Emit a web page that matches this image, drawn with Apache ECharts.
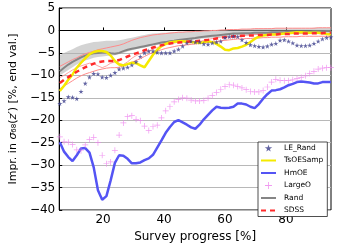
<!DOCTYPE html>
<html><head><meta charset="utf-8">
<script src="https://cdn.jsdelivr.net/npm/echarts@6/dist/echarts.min.js"></script>
<style>html,body{margin:0;padding:0;background:#fff}#c{width:343px;height:248px}</style>
</head><body><div id="c"></div>
<script>
const xs = [5.80,7.19,8.58,9.97,11.36,12.75,14.14,15.53,16.92,18.31,19.70,21.09,22.48,23.87,25.26,26.65,28.04,29.43,30.82,32.21,33.60,34.99,36.38,37.77,39.16,40.55,41.94,43.33,44.72,46.11,47.50,48.89,50.28,51.67,53.06,54.45,55.84,57.23,58.62,60.01,61.40,62.79,64.18,65.57,66.96,68.35,69.74,71.13,72.52,73.91,75.30,76.69,78.08,79.47,80.86,82.25,83.64,85.03,86.42,87.81,89.20,90.59,91.98,93.37,94.76];
const leRand = [-16.3,-15.7,-14.8,-14.9,-15.2,-13.6,-11.8,-10.4,-9.6,-9.7,-10.4,-10.5,-10.0,-9.4,-8.6,-8.4,-8.2,-7.7,-7.0,-5.8,-5.0,-4.6,-4.6,-4.9,-5.0,-5.0,-5.0,-4.6,-4.2,-3.5,-2.8,-2.4,-2.6,-2.6,-3.0,-3.1,-2.8,-2.6,-2.4,-1.6,-1.4,-1.3,-1.4,-2.1,-2.7,-3.2,-3.4,-3.6,-3.7,-3.5,-3.1,-2.9,-2.2,-2.1,-2.4,-2.8,-3.3,-3.4,-3.4,-3.3,-2.9,-2.4,-1.9,-1.6,-1.5];
const tsOESamp = [-13.5,-12.3,-11.0,-9.8,-8.3,-7.2,-6.2,-5.3,-4.8,-4.6,-4.6,-4.8,-5.6,-6.8,-7.6,-7.8,-7.5,-7.2,-7.3,-7.8,-8.2,-6.8,-5.4,-4.3,-3.5,-3.0,-2.7,-2.5,-2.4,-2.4,-2.5,-2.6,-2.7,-2.8,-2.6,-2.4,-2.6,-3.0,-3.6,-4.3,-4.4,-4.0,-3.9,-3.6,-3.2,-2.6,-1.9,-1.4,-1.1,-1.0,-0.9,-0.9,-0.8,-0.7,-0.6,-0.5,-0.4,-0.4,-0.5,-0.5,-0.5,-0.5,-0.6,-0.8,-0.9];
const hmOE = [-24.9,-27.0,-28.2,-29.1,-27.8,-26.3,-26.2,-27.2,-30.5,-35.6,-37.7,-36.9,-33.4,-29.5,-27.8,-27.9,-28.6,-29.6,-29.6,-29.4,-28.9,-28.5,-27.7,-26.1,-24.5,-22.8,-21.5,-20.4,-20.0,-20.5,-21.0,-21.6,-21.9,-21.0,-19.8,-18.8,-17.8,-17.0,-17.2,-17.3,-17.2,-17.0,-16.3,-16.3,-16.5,-17.0,-17.3,-16.4,-15.2,-14.2,-13.4,-13.3,-13.1,-12.7,-12.2,-11.9,-11.5,-11.4,-11.5,-11.6,-11.8,-11.8,-11.5,-11.5,-11.5];
const largeO = [-23.7,-24.8,-24.9,-25.4,-26.6,-26.8,-25.5,-24.3,-23.8,-25.0,-27.8,-29.7,-29.3,-26.7,-23.3,-20.6,-19.2,-19.0,-19.8,-20.1,-21.3,-22.3,-21.4,-21.1,-19.5,-17.9,-17.0,-15.9,-15.4,-15.0,-15.1,-15.5,-15.7,-15.7,-15.6,-15.1,-14.5,-13.8,-13.1,-12.5,-12.1,-12.2,-12.5,-12.8,-13.2,-13.6,-13.7,-13.7,-13.4,-12.6,-11.5,-10.9,-11.1,-11.2,-11.2,-11.0,-10.7,-10.5,-10.1,-9.6,-9.1,-8.6,-8.4,-8.3,-8.3];
const rand = [-9.1,-8.3,-7.6,-7.0,-6.5,-6.0,-5.6,-5.3,-5.1,-5.0,-4.9,-4.9,-5.1,-5.2,-5.0,-4.6,-4.3,-4.1,-3.9,-3.7,-3.5,-3.3,-3.1,-2.9,-2.7,-2.6,-2.4,-2.3,-2.1,-2.0,-1.9,-1.8,-1.7,-1.5,-1.4,-1.3,-1.2,-1.1,-1.0,-0.9,-0.8,-0.7,-0.7,-0.6,-0.6,-0.6,-0.5,-0.5,-0.5,-0.5,-0.4,-0.4,-0.4,-0.4,-0.3,-0.3,-0.3,-0.3,-0.3,-0.3,-0.2,-0.2,-0.2,-0.1,-0.1];
const randHigh = [-5.5,-5.0,-4.6,-4.2,-3.7,-3.3,-3.0,-2.8,-2.6,-2.5,-2.4,-2.3,-2.3,-2.3,-2.2,-2.0,-1.8,-1.6,-1.4,-1.2,-1.0,-0.8,-0.7,-0.6,-0.5,-0.5,-0.4,-0.4,-0.3,-0.3,-0.3,-0.2,-0.2,-0.1,-0.1,0.0,0.0,0.1,0.1,0.2,0.2,0.2,0.3,0.3,0.3,0.4,0.4,0.4,0.4,0.5,0.5,0.5,0.5,0.5,0.5,0.5,0.5,0.5,0.5,0.5,0.6,0.6,0.6,0.6,0.6];
const randLow = [-10.0,-9.4,-8.8,-8.2,-7.6,-7.1,-6.7,-6.4,-6.1,-5.9,-5.8,-5.7,-5.6,-5.5,-5.3,-5.0,-4.7,-4.4,-4.2,-4.0,-3.8,-3.6,-3.4,-3.2,-3.0,-2.8,-2.7,-2.6,-2.5,-2.4,-2.3,-2.2,-2.0,-1.9,-1.8,-1.7,-1.6,-1.5,-1.4,-1.3,-1.2,-1.2,-1.1,-1.1,-1.0,-1.0,-1.0,-0.9,-0.9,-0.9,-0.9,-0.9,-0.9,-0.8,-0.8,-0.8,-0.8,-0.8,-0.8,-0.8,-0.8,-0.8,-0.8,-0.8,-0.8];
const sdss = [-11.7,-11.0,-10.4,-9.8,-9.2,-8.7,-8.2,-7.8,-7.4,-7.1,-6.9,-6.8,-6.8,-6.8,-6.6,-6.2,-5.8,-5.4,-5.1,-4.8,-4.4,-4.1,-3.8,-3.5,-3.3,-3.1,-2.9,-2.8,-2.7,-2.6,-2.5,-2.4,-2.4,-2.3,-2.2,-2.1,-2.0,-1.8,-1.6,-1.5,-1.4,-1.3,-1.3,-1.2,-1.2,-1.1,-1.1,-1.0,-1.0,-1.0,-0.9,-0.9,-0.8,-0.8,-0.8,-0.7,-0.7,-0.7,-0.7,-0.7,-0.6,-0.6,-0.6,-0.5,-0.5];
const sdssUpper = [-8.0,-7.5,-7.0,-6.5,-6.1,-5.6,-5.2,-4.9,-4.6,-4.3,-4.1,-3.9,-3.7,-3.5,-3.3,-3.0,-2.6,-2.2,-1.9,-1.6,-1.4,-1.2,-1.0,-0.9,-0.8,-0.7,-0.6,-0.5,-0.4,-0.4,-0.3,-0.3,-0.2,-0.2,-0.1,-0.1,0.0,0.0,0.1,0.1,0.2,0.2,0.2,0.3,0.3,0.3,0.4,0.4,0.4,0.4,0.4,0.5,0.5,0.5,0.5,0.5,0.5,0.5,0.5,0.5,0.5,0.6,0.6,0.6,0.6];
const sdssLowA = [-13.0,-12.4,-11.8,-11.2,-10.6,-10.1,-9.7,-9.4,-9.1,-8.8,-8.6,-8.4,-8.3,-8.3,-8.2,-7.9,-7.5,-7.1,-6.7,-6.3,-5.8,-5.3,-4.9,-4.6,-4.3,-4.0,-3.8,-3.6,-3.4,-3.3,-3.2,-3.1,-3.0,-2.9,-2.8,-2.7,-2.6,-2.5,-2.3,-2.2,-2.1,-2.0,-1.9,-1.9,-1.8,-1.8,-1.7,-1.7,-1.6,-1.6,-1.5,-1.5,-1.5,-1.4,-1.4,-1.4,-1.4,-1.3,-1.3,-1.3,-1.3,-1.3,-1.3,-1.3,-1.3];
const sdssLowB = [-10.5,-10.0,-9.4,-8.8,-8.3,-7.9,-7.6,-7.3,-7.4,-7.9,-8.3,-7.9,-7.3,-7.0,-7.4,-7.6,-7.0,-6.2,-5.6,-5.2,-4.8,-4.6,-4.2,-3.8,-3.5,-3.2,-3.0,-2.8,-2.6,-2.5,-2.3,-2.4,-2.6,-2.5,-2.2,-2.0,-1.8,-1.6,-1.5,-1.4,-1.5,-1.6,-1.4,-1.2,-1.1,-1.0,-0.9,-0.9,-0.8,-0.8,-0.8,-0.8,-0.7,-0.7,-0.7,-0.7,-0.7,-0.7,-0.7,-0.7,-0.7,-0.7,-0.7,-0.7,-0.7];
const xTicks = [20, 40, 60, 80];

const pair = ys => xs.map((x, i) => [x, ys[i]]);
const STAR = 'path://M50,0 L61,35 L98,35 L68,57 L79,91 L50,70 L21,91 L32,57 L2,35 L39,35 Z';
const PLUS = 'path://M4.4,0H5.6V4.4H10V5.6H5.6V10H4.4V5.6H0V4.4H4.4Z';
const FONT = 'DejaVu Sans';
const noSym = {opacity: 0};

const chart = echarts.init(document.getElementById('c'), null, {renderer: 'canvas'});
chart.setOption({
  animation: false,
  backgroundColor: '#fff',
  textStyle: {fontFamily: FONT},
  grid: {left: 46, right: 12, top: 8, bottom: 32, show: true, borderColor: '#000', borderWidth: 1, backgroundColor: 'transparent'},
  xAxis: {
    type: 'value', min: 5.6, max: 94.8,
    axisLine: {show: true, lineStyle: {color: '#000'}},
    axisTick: {show: true, inside: true, length: 3, customValues: xTicks, lineStyle: {color: '#000'}},
    axisLabel: {customValues: xTicks, color: '#000', fontSize: 12, margin: 4, fontFamily: FONT},
    splitLine: {show: false},
    name: 'Survey progress [%]', nameLocation: 'middle', nameGap: 21,
    nameTextStyle: {color: '#000', fontSize: 12, fontFamily: FONT}
  },
  yAxis: {
    type: 'value', min: -40, max: 5, interval: 5,
    axisLine: {show: true, lineStyle: {color: '#000'}},
    axisTick: {show: true, inside: true, length: 3, lineStyle: {color: '#000'}},
    axisLabel: {color: '#000', fontSize: 12, margin: 4, fontFamily: FONT,
      formatter: v => String(v).replace('-', '\u2212')},
    splitLine: {show: true, lineStyle: {color: '#b8b8b8', width: 1}},
    name: '{n|Impr. in }{i|\u03c3}{n|\u2086\u2088(}{i|z\u2032}{n|) [%, end val.]}',
    nameLocation: 'middle', nameGap: 34, nameRotate: 90,
    nameTextStyle: {color: '#000', fontSize: 11, fontFamily: FONT,
      rich: {n: {fontSize: 11, fontFamily: FONT, color: '#000'}, i: {fontSize: 11, fontStyle: 'italic', fontFamily: FONT, color: '#000'}}}
  },
  legend: {
    orient: 'vertical', left: 258, top: 142,
    padding: [2, 4, 2, 2], itemGap: 4.5, itemWidth: 15, itemHeight: 7,
    backgroundColor: '#fff', borderColor: '#222', borderWidth: 0.8, borderRadius: 0,
    textStyle: {fontSize: 7.5, color: '#000', fontFamily: FONT, padding: [0, 0, 0, 3]},
    data: [
      {name: 'LE_Rand', icon: STAR, itemStyle: {color: '#3c3f8c'}},
      {name: 'TsOESamp', itemStyle: noSym},
      {name: 'HmOE', itemStyle: noSym},
      {name: 'LargeO', icon: PLUS, itemStyle: {color: '#ee82ee'}},
      {name: 'Rand', itemStyle: noSym},
      {name: 'SDSS', itemStyle: noSym}
    ]
  },
  series: [
    {name: 'randBand', type: 'custom', coordinateSystem: 'cartesian2d', silent: true, z: 1, clip: true,
      data: [[xs[0], randLow[0]]],
      renderItem: (params, api) => {
        const pts = [];
        for (let i = 0; i < xs.length; i++) pts.push(api.coord([xs[i], randHigh[i]]));
        for (let i = xs.length - 1; i >= 0; i--) pts.push(api.coord([xs[i], randLow[i]]));
        return {type: 'polygon', shape: {points: pts}, style: {fill: 'rgba(175,175,175,0.55)', stroke: 'none'}};
      }},
    {name: 'sdssUpper', type: 'line', data: pair(sdssUpper), symbol: 'none', lineStyle: {color: '#ff8a8a', width: 1}, z: 2},
    {name: 'sdssLowA', type: 'line', data: pair(sdssLowA), symbol: 'none', lineStyle: {color: '#ff8a8a', width: 1}, z: 2},
    {name: 'sdssLowB', type: 'line', data: pair(sdssLowB), symbol: 'none', lineStyle: {color: '#ff8a8a', width: 0.8}, z: 2},
    {name: 'Rand', type: 'line', data: pair(rand), symbol: 'none', itemStyle: {color: '#858585'}, lineStyle: {color: '#858585', width: 2}, z: 3},
    {name: 'TsOESamp', type: 'line', data: pair(tsOESamp), symbol: 'none', itemStyle: {color: '#f5ea00'}, lineStyle: {color: '#f5ea00', width: 2.5}, z: 4},
    {name: 'SDSS', type: 'line', data: pair(sdss), symbol: 'none', itemStyle: {color: '#ff2a2a'}, lineStyle: {color: '#ff2a2a', width: 2.5, type: [5, 4]}, z: 5},
    {name: 'HmOE', type: 'line', data: pair(hmOE), symbol: 'none', itemStyle: {color: '#5454f4'}, lineStyle: {color: '#5454f4', width: 2.5}, z: 4},
    {name: 'LE_Rand', type: 'scatter', data: pair(leRand), symbol: STAR, symbolSize: 5, itemStyle: {color: '#3c3f8c'}, z: 6},
    {name: 'LargeO', type: 'scatter', data: pair(largeO), symbol: PLUS, symbolSize: 6, itemStyle: {color: '#ee82ee'}, z: 6}
  ]
});
</script></body></html>
